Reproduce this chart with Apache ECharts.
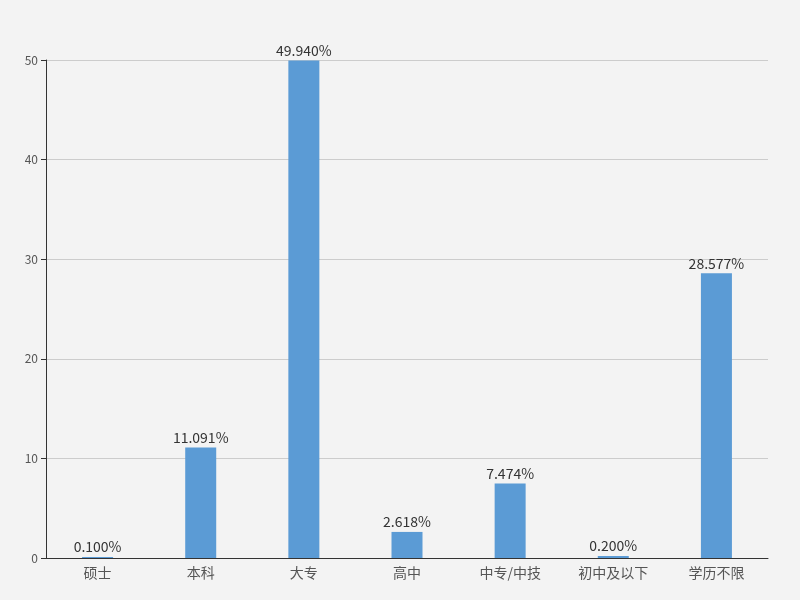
<!DOCTYPE html>
<html><head><meta charset="utf-8">
<script src="https://cdn.jsdelivr.net/npm/echarts@6/dist/echarts.min.js"></script>
<style>html,body{margin:0;padding:0;background:#f3f3f3}#c{width:800px;height:600px}</style>
</head><body><div id="c"></div>
<script>
const categories = ['硕士','本科','大专','高中','中专/中技','初中及以下','学历不限'];
const values = [0.100, 11.091, 49.940, 2.618, 7.474, 0.200, 28.577];
const yTicks = {min:0, max:50, interval:10};
const chart = echarts.init(document.getElementById('c'));
chart.setOption({
  backgroundColor:'#f3f3f3',
  textStyle:{fontFamily:'Noto Sans CJK SC'},
  grid:{left:46, right:32, top:60, bottom:42},
  xAxis:{type:'category', data:categories,
    axisLine:{lineStyle:{color:'#333'}},
    axisTick:{alignWithLabel:true, lineStyle:{color:'#333'}},
    axisLabel:{color:'#555', fontSize:14, margin:8}},
  yAxis:{type:'value', min:yTicks.min, max:yTicks.max, interval:yTicks.interval,
    axisLine:{show:true, lineStyle:{color:'#333'}},
    axisTick:{show:true, lineStyle:{color:'#333'}},
    axisLabel:{color:'#555', fontSize:12},
    splitLine:{lineStyle:{color:'#ccc'}}},
  series:[{type:'bar', data:values, barWidth:31,
    itemStyle:{color:'#5b9bd5'},
    label:{show:true, position:'top', distance:3, color:'#333', fontSize:14,
      formatter:p=>p.value.toFixed(3)+'%'}}]
});
</script></body></html>
